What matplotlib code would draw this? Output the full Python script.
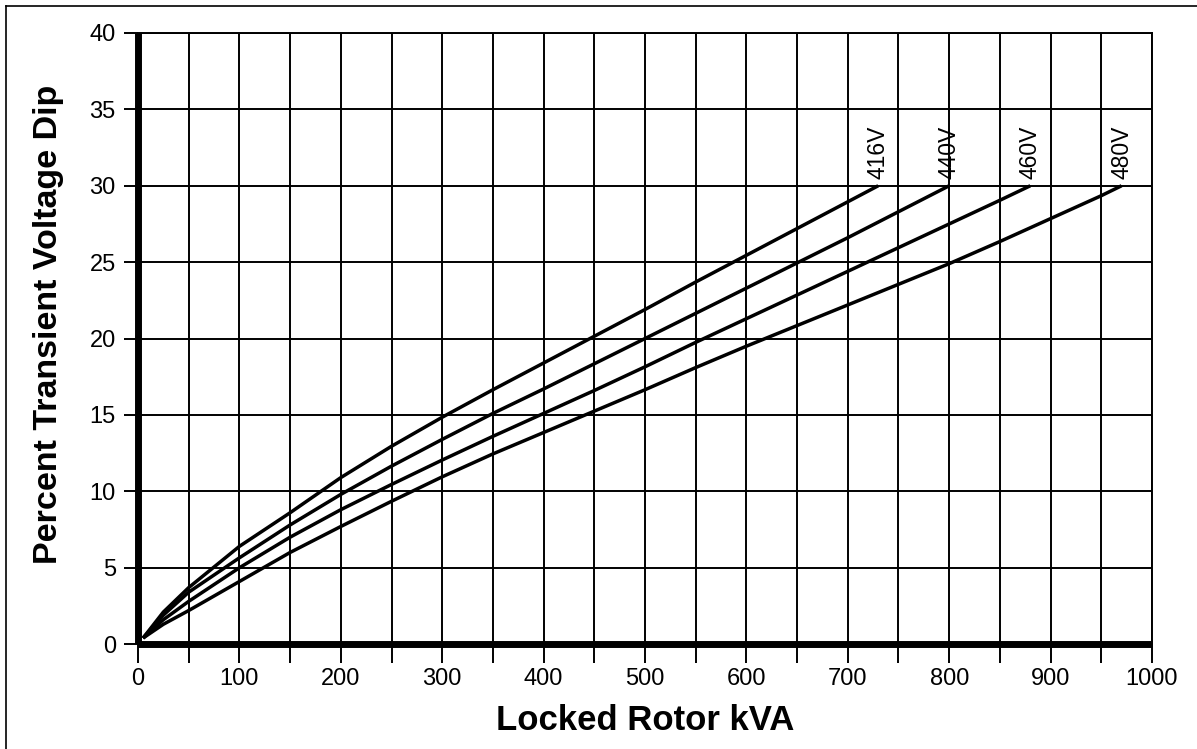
import matplotlib
matplotlib.use("Agg")
import matplotlib.pyplot as plt
from matplotlib.lines import Line2D

plt.rcParams['font.family'] = ['Liberation Sans', 'DejaVu Sans']

# Data
v416_x = [5, 25, 50, 100, 150, 200, 250, 300, 350, 400, 450, 500, 550, 600, 650, 700, 730]
v416_y = [0.4, 2.1, 3.7, 6.4, 8.6, 10.9, 12.95, 14.85, 16.65, 18.4, 20.15, 21.9, 23.7, 25.45, 27.2, 28.95, 30.0]
v440_x = [5, 25, 50, 100, 150, 200, 250, 300, 350, 400, 450, 500, 550, 600, 650, 700, 750, 800]
v440_y = [0.4, 1.9, 3.4, 5.65, 7.8, 9.8, 11.65, 13.4, 15.1, 16.7, 18.35, 20.0, 21.65, 23.3, 24.95, 26.6, 28.3, 30.0]
v460_x = [5, 25, 50, 100, 150, 200, 250, 300, 350, 400, 450, 500, 550, 600, 650, 700, 750, 800, 850, 880]
v460_y = [0.4, 1.6, 2.8, 5.0, 7.0, 8.8, 10.45, 12.05, 13.6, 15.1, 16.6, 18.15, 19.75, 21.3, 22.85, 24.4, 25.95, 27.5, 29.05, 30.0]
v480_x = [5, 25, 50, 100, 150, 200, 250, 300, 350, 400, 450, 500, 550, 600, 650, 700, 750, 800, 850, 900, 950, 970]
v480_y = [0.4, 1.3, 2.2, 4.1, 6.0, 7.7, 9.35, 10.95, 12.45, 13.85, 15.25, 16.65, 18.1, 19.5, 20.85, 22.2, 23.55, 24.9, 26.35, 27.85, 29.35, 30.0]
series_labels = ["416V", "440V", "460V", "480V"]

x_ticks = list(range(0, 1001, 100))
x_minor = list(range(0, 1001, 50))
y_ticks = list(range(0, 41, 5))

fig = plt.figure(figsize=(11.97, 7.49), dpi=100)
ax = fig.add_axes([0.1153, 0.140, 0.9624 - 0.1153, 0.956 - 0.140])

series = [(v416_x, v416_y), (v440_x, v440_y), (v460_x, v460_y), (v480_x, v480_y)]
for (xs, ys), lab in zip(series, series_labels):
    ax.plot(xs, ys, color='black', lw=2.5, solid_capstyle='butt',
            solid_joinstyle='round', zorder=3)
    ax.text(xs[-1], ys[-1] + 0.45, lab, rotation=90, ha='center', va='bottom',
            fontsize=16.5, color='black', zorder=4)

ax.set_xlim(0, 1000)
ax.set_ylim(0, 40)
ax.set_xticks(x_minor, minor=True)
ax.set_xticks(x_ticks)
ax.set_yticks(y_ticks)
ax.grid(True, which='both', axis='x', color='black', lw=1.4)
ax.grid(True, which='major', axis='y', color='black', lw=1.4)
ax.set_axisbelow(True)

for s in ['top', 'right']:
    ax.spines[s].set_linewidth(1.4)
for s in ['left', 'bottom']:
    ax.spines[s].set_linewidth(5.0)
    ax.spines[s].set_zorder(5)
    ax.spines[s].set_capstyle('butt')

ax.tick_params(axis='x', which='both', direction='out', length=14, width=1.4,
               labelsize=17, pad=3)
ax.tick_params(axis='y', which='major', direction='out', length=10, width=1.4,
               labelsize=17, pad=6)

ax.set_xlabel("Locked Rotor kVA", fontsize=25, fontweight='bold', va='baseline')
ax.xaxis.set_label_coords(0.5, -0.1408)
ax.set_ylabel("Percent Transient Voltage Dip", fontsize=24.5, fontweight='bold', va='center')
ax.yaxis.set_label_coords(-0.0878, 0.524)

# page frame (left and top edges)
fig.add_artist(Line2D([0.005, 0.005], [0.0, 0.992], transform=fig.transFigure,
                      color='black', lw=1.2))
fig.add_artist(Line2D([0.005, 1.0], [0.992, 0.992], transform=fig.transFigure,
                      color='black', lw=1.2))

fig.savefig("out.png", dpi=100, facecolor='white')
